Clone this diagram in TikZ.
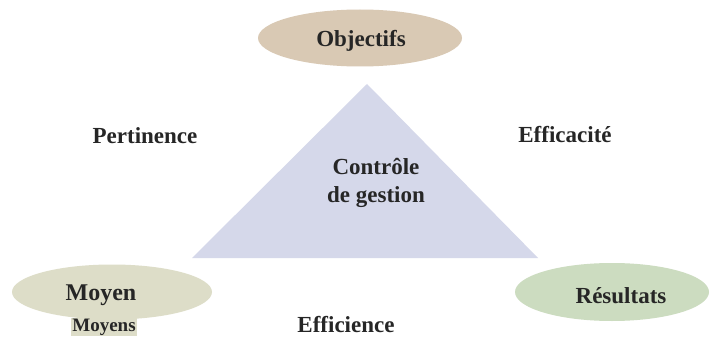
\documentclass[tikz,border=0pt]{standalone}
\usepackage{fontspec}
\setmainfont{Liberation Serif}
\usetikzlibrary{shapes.geometric}
\definecolor{tri}{HTML}{D5D8EA}
\definecolor{obj}{HTML}{D9C9B4}
\definecolor{moy}{HTML}{DDDDC8}
\definecolor{res}{HTML}{CCDCC0}
\begin{document}
\begin{tikzpicture}[x=1pt,y=1pt,
  lbl/.style={font=\bfseries\fontsize{23}{28}\selectfont, text=black!85},
  oval/.style={ellipse, inner sep=0pt}]
\useasboundingbox (0,0) rectangle (712,338);
\fill[white] (0,0) rectangle (712,338);
% triangle
\coordinate (apex) at (367,254);
\coordinate (bl) at (192,80);
\coordinate (br) at (538,80);
\fill[tri] (apex) -- (br) -- (bl) -- cycle;
% ellipses
\node[oval, fill=obj, minimum width=204, minimum height=57] (obj) at (360,300) {};
\node[lbl] (objt) at (361,297) {Objectifs};
\node[oval, fill=moy, minimum width=200, minimum height=55] (moy) at (112,46) {};
\node[lbl, font=\bfseries\fontsize{24}{28}\selectfont] (moyt) at (101,43) {Moyen};
\node[fill=moy, inner xsep=1pt, inner ysep=0.5pt, font=\bfseries\fontsize{19}{22}\selectfont, text=black!85] (moys) at (104,11) {Moyens};
\node[oval, fill=res, minimum width=194, minimum height=58] (res) at (612,46) {};
\node[lbl] (rest) at (621,42) {Résultats};
% labels
\node[lbl] (pert) at (145,202) {Pertinence};
\node[lbl] (eff) at (565,203) {Efficacité};
\node[lbl, align=center] (cg) at (376,155) {Contrôle\\de gestion};
\node[lbl] (effi) at (346,13) {Efficience};
\end{tikzpicture}
\end{document}
